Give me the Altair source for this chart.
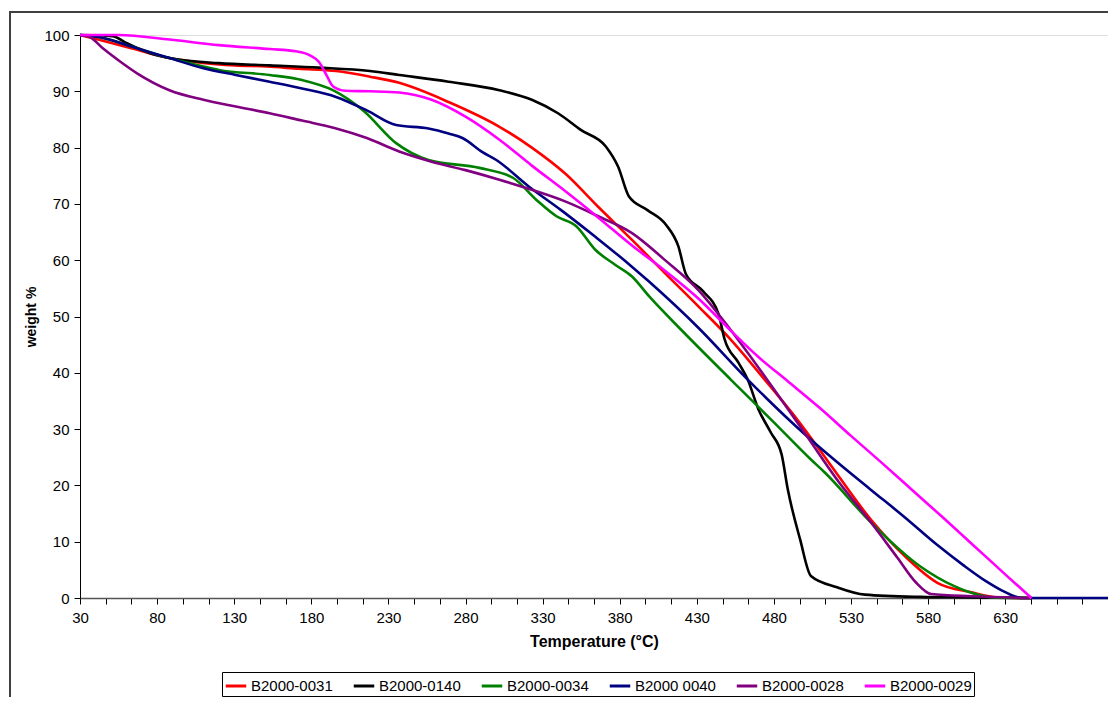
import altair as alt
import pandas as pd

# ---- data (temperature °C, weight %) ----
series_names = ["B2000-0031", "B2000-0140", "B2000-0034", "B2000 0040", "B2000-0028", "B2000-0029"]
series_colors = ["#FF0000", "#000000", "#008000", "#000080", "#800080", "#FF00FF"]

t_0031 = [30, 43, 64, 86, 108, 131, 151, 172, 196, 218, 237, 269, 302, 323, 345, 366, 388, 409, 431, 452, 474, 496, 515, 543, 565, 586, 608, 625, 647]
w_0031 = [100, 99.1, 97.6, 96.0, 95.1, 94.6, 94.4, 94.0, 93.6, 92.6, 91.5, 88.1, 83.7, 80.0, 75.3, 69.5, 63.6, 57.8, 51.8, 45.9, 38.8, 31.4, 24.3, 13.9, 7.4, 2.7, 1.0, 0.1, 0]

t_0140 = [30, 51, 60, 75, 88, 120, 153, 185, 218, 237, 269, 302, 323, 340, 355, 371, 379, 386, 398, 410, 418, 423, 434, 444, 448, 457, 463, 470, 478, 485, 489, 497, 504, 521, 539, 575, 605, 647]
w_0140 = [100, 99.8, 98.6, 96.8, 95.9, 95.0, 94.6, 94.2, 93.6, 92.9, 91.7, 90.2, 88.5, 86.1, 83.1, 80.2, 76.6, 71.3, 68.9, 66.3, 62.5, 57.5, 54.5, 50.5, 46.0, 41.8, 38.8, 33.5, 29.4, 25.5, 19.3, 10.4, 3.9, 1.9, 0.6, 0.2, 0.1, 0]

t_0034 = [30, 43, 64, 88, 110, 120, 153, 174, 194, 214, 235, 256, 289, 311, 326, 339, 352, 364, 377, 388, 399, 420, 452, 480, 504, 513, 543, 575, 597, 612, 622, 647]
w_0034 = [100, 99.6, 97.9, 95.9, 94.4, 93.8, 92.9, 92.0, 90.2, 86.5, 80.8, 77.8, 76.4, 74.6, 70.7, 67.8, 66.0, 61.9, 59.2, 57.1, 53.6, 47.6, 38.8, 31.2, 24.6, 22.3, 13.4, 5.6, 2.1, 0.6, 0.1, 0]

t_0040 = [30, 43, 64, 88, 110, 131, 153, 174, 196, 216, 235, 256, 269, 278, 291, 300, 321, 342, 364, 386, 399, 431, 463, 500, 519, 543, 565, 586, 603, 618, 628, 636, 640, 696.7]
w_0040 = [100, 99.6, 97.9, 95.9, 94.1, 92.9, 91.7, 90.5, 89.0, 86.6, 84.0, 83.4, 82.5, 81.7, 79.2, 77.8, 73.1, 68.9, 64.2, 59.3, 56.2, 48.0, 38.8, 29.1, 24.6, 19.2, 14.3, 9.4, 5.8, 2.9, 1.3, 0.3, 0, 0]

t_0028 = [30, 36, 45, 56, 67, 88, 110, 131, 153, 174, 195, 216, 237, 258, 280, 302, 323, 345, 366, 388, 409, 431, 452, 474, 500, 521, 543, 560, 572, 582, 608, 647]
w_0028 = [100, 99.7, 97.6, 95.3, 93.2, 90.2, 88.5, 87.3, 86.1, 84.8, 83.5, 81.7, 79.3, 77.5, 76.0, 74.3, 72.5, 70.4, 67.8, 64.8, 60.1, 54.7, 47.6, 39.4, 29.3, 21.0, 13.4, 7.2, 2.8, 0.7, 0.3, 0]

t_0029 = [30, 55, 88, 120, 153, 170, 179, 185, 190, 194, 202, 218, 237, 258, 280, 302, 323, 345, 366, 388, 410, 431, 452, 470, 489, 510, 530, 550, 570, 590, 610, 630, 647]
w_0029 = [100, 100, 99.2, 98.2, 97.5, 97.1, 96.4, 95.2, 92.8, 90.9, 90.1, 90.0, 89.8, 88.5, 85.5, 81.4, 76.8, 72.2, 67.6, 62.6, 58.0, 53.2, 47.5, 42.8, 38.5, 33.7, 28.8, 24.0, 19.1, 14.2, 9.2, 4.2, 0]

x_labels = [30, 80, 130, 180, 230, 280, 330, 380, 430, 480, 530, 580, 630]
y_ticks = [0, 10, 20, 30, 40, 50, 60, 70, 80, 90, 100]

all_t = [t_0031, t_0140, t_0034, t_0040, t_0028, t_0029]
all_w = [w_0031, w_0140, w_0034, w_0040, w_0028, w_0029]

rows = []
for i, (name, ts, ws) in enumerate(zip(series_names, all_t, all_w)):
    for j, (t, w) in enumerate(zip(ts, ws)):
        rows.append({"series": name, "order": i, "idx": j, "T": t, "W": w})
df = pd.DataFrame(rows)

x_max = 30 + 40 * 50 / 3
tick_vals = [30 + k * 50 / 3 for k in range(41)]
label_list = ",".join(str(v) for v in x_labels)

FONT = "Liberation Sans"

x_enc = alt.X(
    "T:Q",
    scale=alt.Scale(domain=[30, x_max], nice=False, zero=False),
    axis=alt.Axis(
        title="Temperature (°C)",
        values=tick_vals,
        labelExpr="indexof([" + label_list + "], round(datum.value)) >= 0 && abs(datum.value - round(datum.value)) < 0.01 ? format(round(datum.value), 'd') : ''",
        tickSize=6,
        tickColor="#000000",
        domainColor="#555555",
        domainWidth=1.5,
        labelFontSize=15,
        labelPadding=6,
        labelColor="#000000",
        labelFlush=False,
        labelOverlap=False,
        titleFontSize=16,
        titleFontWeight="bold",
        titlePadding=8,
        titleColor="#000000",
        grid=False,
    ),
)
y_enc = alt.Y(
    "W:Q",
    scale=alt.Scale(domain=[0, 100], nice=False),
    axis=alt.Axis(
        title="weight %",
        values=y_ticks,
        tickSize=6,
        tickColor="#000000",
        domainColor="#000000",
        labelFontSize=15,
        labelPadding=5,
        labelColor="#000000",
        titleFontSize=14,
        titleFontWeight="bold",
        titlePadding=5,
        titleColor="#000000",
        grid=False,
    ),
)

lines = alt.Chart(df).mark_line(strokeWidth=2.6, interpolate="monotone").encode(
    x=x_enc,
    y=y_enc,
    color=alt.Color(
        "series:N",
        scale=alt.Scale(domain=series_names, range=series_colors),
        sort=series_names,
        legend=alt.Legend(
            title=None,
            orient="none",
            legendX=142,
            legendY=637,
            direction="horizontal",
            columns=6,
            symbolType="stroke",
            symbolStrokeWidth=3,
            symbolSize=420,
            labelFontSize=15,
            labelColor="#000000",
            labelOffset=3,
            columnPadding=14,
            strokeColor="#000000",
            padding=2,
        ),
    ),
    detail="series:N",
    order="idx:Q",
)

frame_df = pd.DataFrame({"k": [0]})
frame = alt.Chart(frame_df).mark_rect(fill=None, stroke="#404040", strokeWidth=2).encode(
    x=alt.value(-70), x2=alt.value(1060), y=alt.value(-23), y2=alt.value(700)
)

chart = alt.layer(frame, lines).properties(
    width=1028,
    height=563,
    autosize=alt.AutoSizeParams(type="none"),
    padding={"left": 72, "top": 27, "right": 0, "bottom": 99},
).configure_view(stroke=None).configure(font=FONT)

chart.save("out.html", embed_options={"renderer": "svg", "actions": False})
